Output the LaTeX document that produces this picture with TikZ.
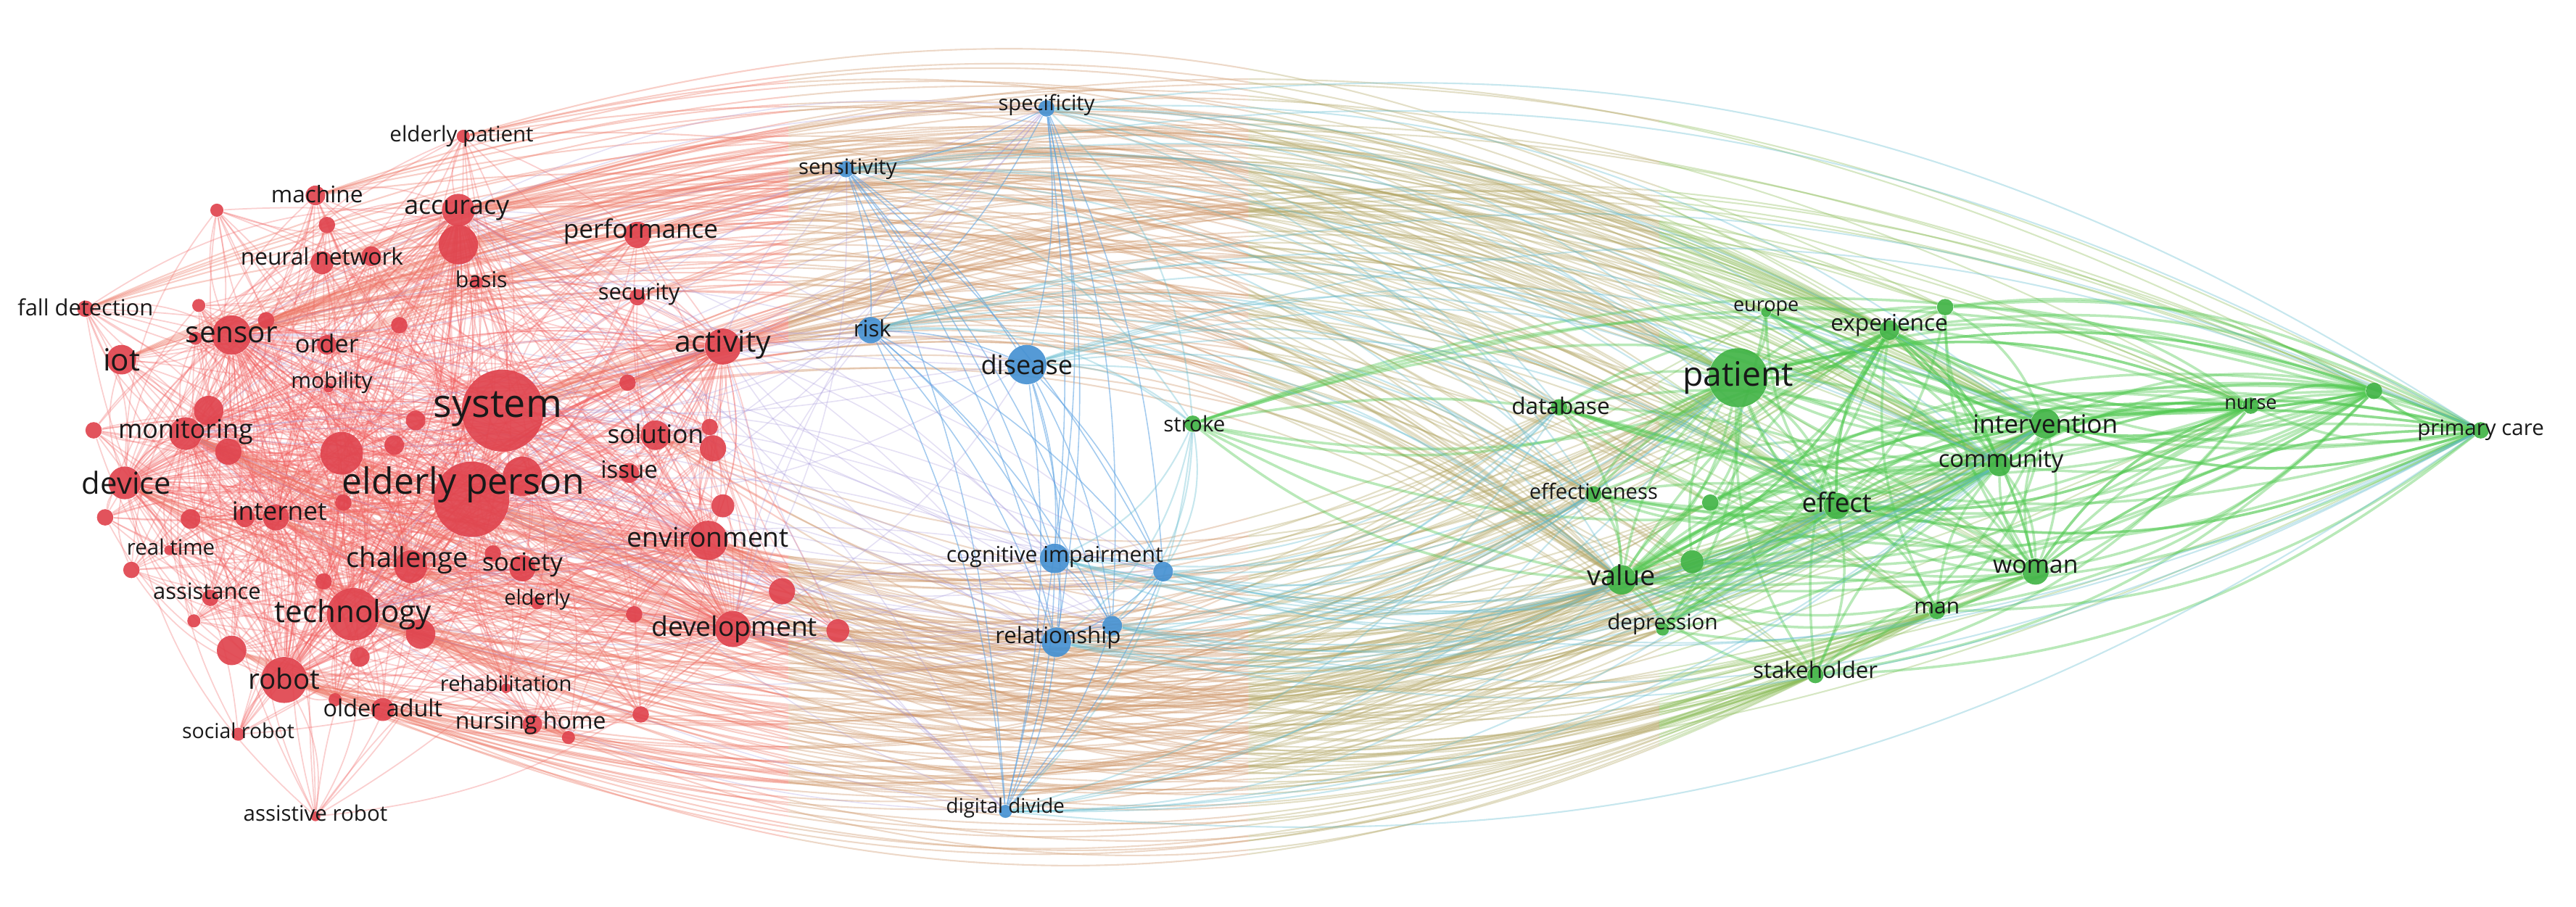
\documentclass[tikz,border=0pt]{standalone}
\usepackage{fontspec}
\setmainfont{Open Sans}
\pgfdeclarelayer{edges}
\pgfsetlayers{edges,main}
\definecolor{nred}{RGB}{224,68,78}
\definecolor{nblue}{RGB}{70,145,210}
\definecolor{ngreen}{RGB}{66,180,70}
\definecolor{ered}{RGB}{240,95,95}
\definecolor{egreen}{RGB}{80,200,80}
\definecolor{band1}{RGB}{236,118,100}
\definecolor{band2}{RGB}{205,148,102}
\definecolor{band3}{RGB}{178,165,100}
\definecolor{band4}{RGB}{140,188,90}
\definecolor{eblue}{RGB}{90,160,225}
\definecolor{epurple}{RGB}{160,145,215}
\definecolor{eteal}{RGB}{95,185,205}
\definecolor{labc}{RGB}{25,25,25}
\tikzset{
  nodeR/.style={circle,inner sep=0pt,fill=nred,fill opacity=.92,minimum size={2*#1*0.022653cm}},
  nodeB/.style={circle,inner sep=0pt,fill=nblue,fill opacity=.92,minimum size={2*#1*0.022653cm}},
  nodeG/.style={circle,inner sep=0pt,fill=ngreen,fill opacity=.92,minimum size={2*#1*0.022653cm}},
  lab/.style={text=labc,inner sep=0pt,anchor=center},
  redge/.style={draw=ered,draw opacity=.3,line width=.5pt},
  oedge/.style={draw=#1,draw opacity=.36,line width=.6pt},
  gedge/.style={draw=egreen,draw opacity=.4,line width=1pt},
  bedge/.style={draw=eblue,draw opacity=.55,line width=.45pt},
  pedge/.style={draw=epurple,draw opacity=.28,line width=.45pt},
  tedge/.style={draw=eteal,draw opacity=.35,line width=.6pt},
}
% red-green connectors, drawn in one colour band
\newcommand\RGedges[1]{%
  \foreach \a in {sys,sens,acc,act}{
    \foreach \b in {pat,int,comm,eff,value,pc,exp,db,woman,nurse,stake,man,effn,dep,g4,g3,g1,g2,eu}{
      \draw[oedge=#1] (\a) to[bend left=22] (\b);}}
  \foreach \a in {iot,perf,nn,mach,ep,fall,sec,order,accb,basis,r8,r5}{
    \foreach \b in {pat,int,eff,exp,value,comm}{
      \draw[oedge=#1] (\a) to[bend left=24] (\b);}}
  \foreach \a in {eper,tech}{
    \foreach \b in {pat,int,comm,eff,value,pc,exp,db,woman,nurse,stake,man,effn,dep,g4,g3,g1,eu}{
      \draw[oedge=#1] (\a) to[bend right=22] (\b);}}
  \foreach \a in {robot,devt,env,mon}{
    \foreach \b in {pat,int,comm,eff,value,exp,db,woman,stake,man,effn,dep,g4,g3}{
      \draw[oedge=#1] (\a) to[bend right=22] (\b);}}
  \foreach \a in {dvc,chal,inet,soc,oa,nh,r13,sol,r25,r31,r28,r30}{
    \foreach \b in {pat,int,eff,value,stake,man}{
      \draw[oedge=#1] (\a) to[bend right=24] (\b);}}%
}
\begin{document}
\begin{tikzpicture}[x=0.022653cm,y=-0.022653cm]
\useasboundingbox (0,0) rectangle (1568,552);
% ---------------- nodes
\foreach \n/\x/\y/\r in {ep/282/83/4, mach/192/119/6, acc/279/128/10, accb/279/149/12, r1/132/128/4, r2/199/137/5, nn/196/160/7, r3/226/156/6, basis/290/172/4, perf/388/143/8, sec/388/181/5, fall/52/188/5, r4/121/186/4, r5/162/195/5, sens/141/204/12, r6/119/206/4, order/199/210/6, r7/243/198/5, iot/74/219/9, r8/382/233/5, mob/200/236/3, act/440/211/11, sys/306/250/25, r9/253/256/6, mon/113/264/10, r10/127/250/9, r11/139/275/8, r12/57/262/5, r13/208/276/13, r14/240/271/6, sol/399/265/9, r15/432/260/5, r16/434/273/8, issue/383/288/6, eper/287/304/23, r17/318/290/12, dvc/76/294/10, r18/64/315/5, r19/116/316/6, inet/168/315/8, r20/149/315/6, r21/209/306/5, rt/103/335/3, r22/80/347/5, chal/250/345/10, soc/318/346/8, r23/300/337/5, assist/128/364/5, r24/197/354/5, eld/327/367/4, tech/215/374/16, r25/256/386/9, r26/118/378/4, r27/386/374/5, r28/476/360/8, env/431/329/12, r29/440/308/7, devt/446/383/11, r30/510/384/7, r31/141/396/9, robot/173/414/14, r32/219/400/6, rehab/308/419/3, oa/233/432/7, r33/204/426/4, nh/324/441/6, r34/390/435/5, r35/346/449/4, sr/145/447/4, ar/192/497/3}
  {\node[nodeR=\r] (\n) at (\x,\y) {};}
\foreach \n/\x/\y/\r in {spec/637/66/5, sensi/515/103/5, risk/530/201/8, dis/625/222/12, cog/642/340/9, b1/708/348/6, rel/643/391/9, b2/677/381/6, dd/612/494/4}
  {\node[nodeB=\r] (\n) at (\x,\y) {};}
\foreach \n/\x/\y/\r in {stroke/726/258/5, eu/1075/190/3, g1/1184/187/5, exp/1150/201/6, pat/1058/230/18, db/949/248/5, nurse/1370/247/5, g2/1445/238/5, pc/1510/262/5, int/1245/258/9, comm/1217/283/7, effn/970/301/5, g3/1041/306/5, eff/1118/308/8, woman/1239/348/8, g4/1030/342/7, value/987/353/9, man/1179/372/5, dep/1012/383/4, stake/1105/411/5}
  {\node[nodeG=\r] (\n) at (\x,\y) {};}
% ---------------- edges
\begin{pgfonlayer}{edges}
% red - red
\foreach \a [count=\i] in {ep,mach,acc,accb,r1,r2,nn,r3,basis,perf,sec,fall,r4,r5,sens,r6,order,r7,iot,r8,mob,act,sys,r9,mon,r10,r11,r12,r13,r14,sol,r15,r16,issue,eper,r17,dvc,r18,r19,inet,r20,r21,rt,r22,chal,soc,r23,assist,r24,eld,tech,r25,r26,r27,r28,env,r29,devt,r30,r31,robot,r32,rehab,oa,r33,nh,r34,r35,sr,ar}{
  \foreach \b [count=\j] in {sys,eper,tech,sens,mon,dvc,robot,acc,act,env,chal,inet,devt,r13}{
    \ifx\a\b\else
      \pgfmathtruncatemacro\k{mod(\i+\j,2)}
      \ifnum\k=0 \draw[redge] (\a) to[bend left=18] (\b);
      \else \draw[redge] (\a) to[bend right=18] (\b);\fi
    \fi}}
% red - green, colour shifting from red to green along the way
\begin{scope}\clip (-10,-10) rectangle (480,600); \RGedges{band1}\end{scope}
\begin{scope}\clip (480,-10) rectangle (760,600); \RGedges{band2}\end{scope}
\begin{scope}\clip (760,-10) rectangle (1010,600); \RGedges{band3}\end{scope}
\begin{scope}\clip (1010,-10) rectangle (1600,600); \RGedges{band4}\end{scope}
% green - green
\foreach \a [count=\i] in {eu,g1,exp,pat,db,nurse,g2,pc,int,comm,effn,g3,eff,woman,g4,value,man,dep,stake,stroke}{
  \foreach \b [count=\j] in {pat,int,comm,eff,value,pc,exp,nurse,woman,g2}{
    \ifx\a\b\else
      \pgfmathtruncatemacro\k{mod(\i+\j,2)}
      \ifnum\k=0 \draw[gedge] (\a) to[bend left=18] (\b);
      \else \draw[gedge] (\a) to[bend right=18] (\b);\fi
    \fi}}
% blue - blue
\foreach \a [count=\i] in {spec,sensi,risk,dis,cog,b1,rel,b2,dd}{
  \foreach \b [count=\j] in {spec,sensi,risk,dis,cog,b1,rel,b2,dd}{
    \ifnum\i<\j \draw[bedge] (\a) to[bend left=10] (\b);\fi}}
% blue - red
\foreach \a [count=\i] in {spec,sensi,risk,dis,cog,b1,rel,b2,dd}{
  \foreach \b [count=\j] in {sys,eper,tech,acc,act,sens,mon,devt}{
    \pgfmathtruncatemacro\k{mod(\i+\j,2)}
    \ifnum\k=0 \draw[pedge] (\a) to[bend left=15] (\b);
    \else \draw[pedge] (\a) to[bend right=15] (\b);\fi}}
% blue - green
\foreach \a in {spec,sensi,risk,dis}{
  \foreach \b in {pat,int,comm,value,eff,pc,db,stroke,effn}{
    \draw[tedge] (\a) to[bend left=20] (\b);}}
\foreach \a in {cog,b1,rel,b2,dd}{
  \foreach \b in {pat,int,comm,value,eff,pc,db,stroke,effn}{
    \draw[tedge] (\a) to[bend right=20] (\b);}}
\end{pgfonlayer}
% ---------------- labels
\foreach \n/\t/\x/\y/\s in {ep/elderly patient/281/83/8.4, mach/machine/193/118/9, acc/accuracy/278/128/10.2, nn/neural network/196/156/9, basis/basis/293/170/8.6, perf/performance/390/141/10, sec/security/389/179/8.8, fall/fall detection/52/187/8.8, sens/sensor/141/204/11.5, order/order/199/209/9.7, iot/iot/74/219/12, mob/mobility/202/233/8.5, act/activity/440/210/11.6, sys/system/303/249/15.3, mon/monitoring/113/263/10.2, sol/solution/399/264/10, issue/issue/383/286/9.4, dvc/device/77/294/11.9, eper/elderly person/282/295/14.2, inet/internet/170/311/10, env/environment/431/327/10.6, rt/real time/104/333/8.4, chal/challenge/248/341/10.8, soc/society/318/344/9.8, assist/assistance/126/360/8.8, eld/elderly/327/365/8.2, tech/technology/215/374/12, devt/development/447/383/10.6, robot/robot/173/413/11, rehab/rehabilitation/308/416/8.3, oa/older adult/233/431/9.2, nh/nursing home/323/440/9.1, sr/social robot/145/445/8.1, ar/assistive robot/192/495/8.4, spec/specificity/637/64/8.3, sensi/sensitivity/516/103/8.4, risk/risk/531/200/8.9, dis/disease/625/222/10.3, stroke/stroke/727/258/8.4, cog/cognitive impairment/642/339/8.6, rel/relationship/644/388/8.9, dd/digital divide/612/492/7.9, eu/europe/1075/188/7.7, exp/experience/1150/198/9, pat/patient/1058/230/13.2, db/database/950/247/9, nurse/nurse/1370/246/7.7, pc/primary care/1510/262/8.4, int/intervention/1245/258/10, comm/community/1218/281/9.3, effn/effectiveness/970/299/8.3, eff/effect/1118/306/10.4, woman/woman/1239/345/9.6, value/value/987/350/10.8, man/man/1179/370/8.5, dep/depression/1012/380/8.4, stake/stakeholder/1105/408/8.9}
  {\node[lab,font=\fontsize{\s}{\s}\selectfont] (l-\n) at (\x,\y) {\t};}
\end{tikzpicture}
\end{document}
